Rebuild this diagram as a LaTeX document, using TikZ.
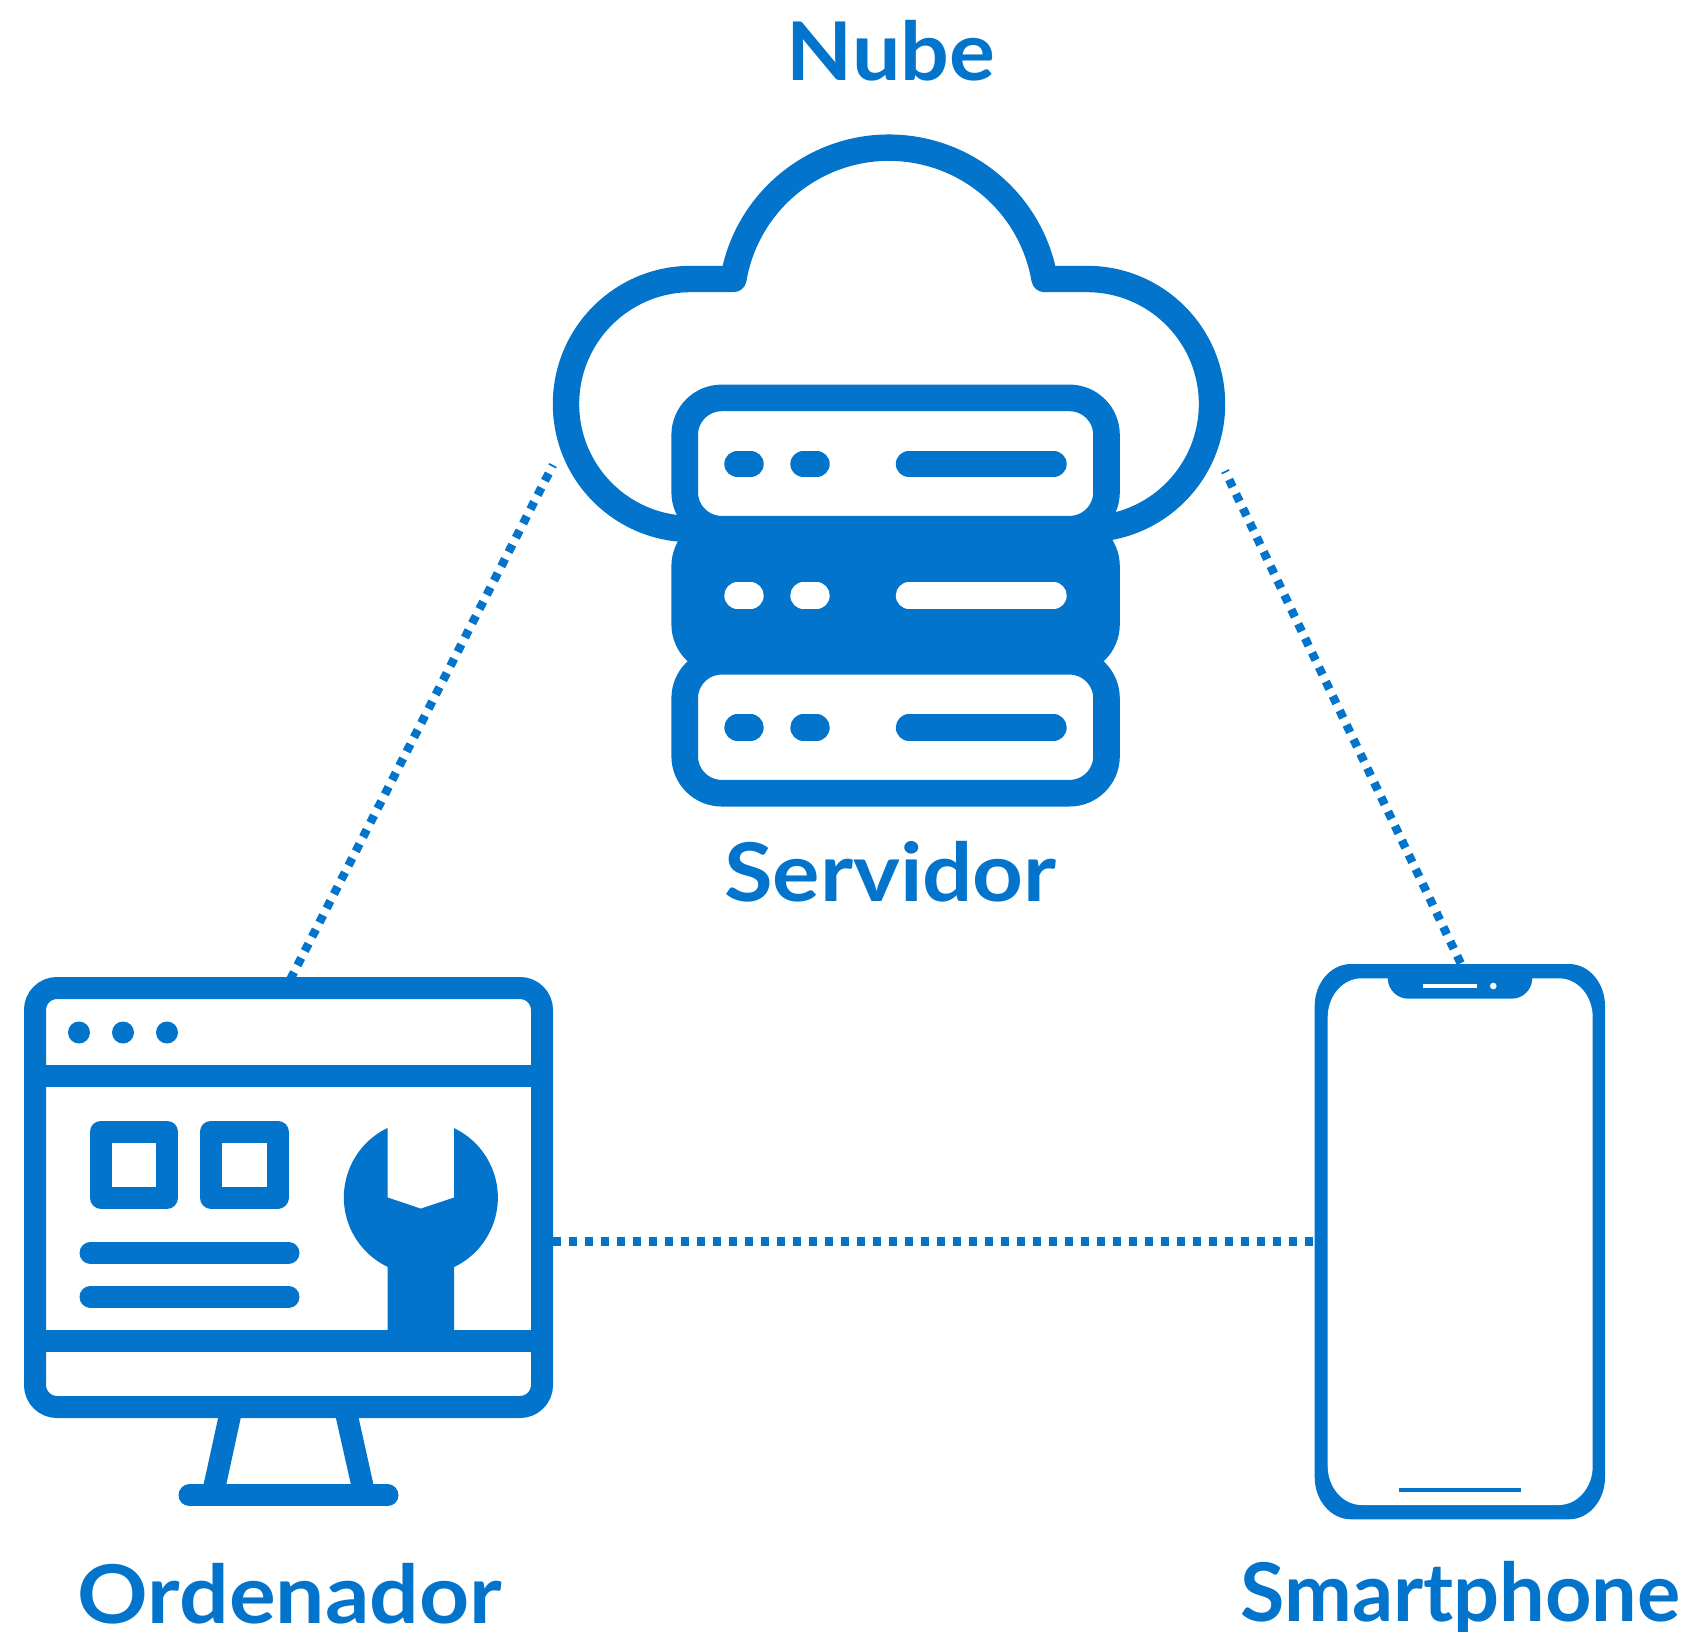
\documentclass[tikz,border=0pt]{standalone}
\usepackage{fontspec}
\setmainfont{Lato}[BoldFont={Lato Bold}]
\definecolor{azul}{HTML}{0374CB}
\tikzset{
  x=1pt,y=1pt,
  label text/.style={text=azul,inner sep=0pt,anchor=base,font=\fontsize{81}{90}\selectfont\bfseries},
  band/.style={draw=azul,line join=round},
  pill/.style={line width=26.4pt,line cap=round},
  dotline/.style={azul,line width=8.5pt,dash pattern=on 8.2pt off 7.8pt,dash phase=6.5pt},
}
\begin{document}
\begin{tikzpicture}
\fill[white] (0,0) rectangle (1691,-1632);
\useasboundingbox (0,0) rectangle (1691,-1632);
% connector anchors
\coordinate (cloudL) at (553,-465);
\coordinate (cloudR) at (1225,-471);
\coordinate (pcTop) at (290,-980);
\coordinate (pcRight) at (553,-1241.5);
\coordinate (phoneTop) at (1462,-966);
\coordinate (phoneLeft) at (1315,-1241.5);
\draw[dotline] (cloudL) -- (pcTop);
\draw[dotline] (cloudR) -- (phoneTop);
\draw[dotline,dash phase=0pt] (pcRight) -- (phoneLeft);
% cloud
\draw[band,line width=26.4pt] (691,-529) arc[start angle=270,end angle=90,radius=125] -- (733.4,-279)
  arc[start angle=170.34,end angle=9.66,radius=157.8] -- (1087,-279)
  arc[start angle=90,end angle=-90,radius=125];
% server
\begin{scope}[line width=26.6pt,draw=azul]
\filldraw[azul,rounded corners=37pt] (684.7,-529.2) rectangle (1106.5,-661.3);
\filldraw[draw=azul,fill=white,rounded corners=37pt] (684.7,-397.9) rectangle (1106.5,-529.2);
\filldraw[draw=azul,fill=white,rounded corners=37pt] (684.7,-661.3) rectangle (1106.5,-793.2);
\end{scope}
\foreach \yy/\cc in {464/azul,595.6/white,727.6/azul}{
  \draw[pill,\cc] (737.5,-\yy) -- (750.5,-\yy);
  \draw[pill,\cc] (803.5,-\yy) -- (816.5,-\yy);
  \draw[pill,\cc] (909,-\yy) -- (1053.5,-\yy);
}
% computer
\filldraw[draw=azul,fill=white,line width=22pt,rounded corners=22pt] (35,-988) rectangle (542,-1407);
\draw[azul,line width=22pt] (35,-1076.4) -- (542,-1076.4);
\draw[azul,line width=22pt] (35,-1341) -- (542,-1341);
\foreach \xx in {79,123,167}{\fill[azul] (\xx,-1032.5) circle[radius=11];}
\draw[band,line width=22pt] (101,-1131.5) rectangle (167,-1197.7);
\draw[band,line width=22pt] (211,-1131.5) rectangle (277.6,-1197.7);
\draw[azul,line width=22pt,line cap=round] (90.5,-1252.9) -- (288.5,-1252.9);
\draw[azul,line width=22pt,line cap=round] (90.5,-1296.8) -- (288.5,-1296.8);
\fill[azul] (387.7,-1127.9) arc[start angle=115.5,end angle=244.5,radius=77] -- (387.7,-1335) -- (454,-1335) -- (454,-1267.1)
  arc[start angle=-64.5,end angle=64.5,radius=77] -- (454,-1197.5) -- (420.8,-1208.6) -- (387.7,-1197.5) -- cycle;
\fill[azul] (219,-1414) -- (241.6,-1414) -- (225.7,-1487) -- (203,-1487) -- cycle;
\fill[azul] (335,-1414) -- (357.8,-1414) -- (374,-1487) -- (351.5,-1487) -- cycle;
\draw[azul,line width=22pt,line cap=round] (189.5,-1495.4) -- (387.5,-1495.4);
% phone
\fill[azul] (1351,-964) -- (1569,-964) arc[start angle=90,end angle=0,x radius=36,y radius=42] -- (1605,-1477.3)
  arc[start angle=0,end angle=-90,x radius=36,y radius=42] -- (1351,-1519.3)
  arc[start angle=270,end angle=180,x radius=36.3,y radius=42] -- (1314.7,-1006)
  arc[start angle=180,end angle=90,x radius=36.3,y radius=42] -- cycle;
\fill[white] (1361.7,-978.3) -- (1558.7,-978.3) arc[start angle=90,end angle=0,x radius=34,y radius=39] -- (1592.7,-1466)
  arc[start angle=0,end angle=-90,x radius=34,y radius=39] -- (1361.7,-1505)
  arc[start angle=270,end angle=180,x radius=34,y radius=39] -- (1327.7,-1017.3)
  arc[start angle=180,end angle=90,x radius=34,y radius=39] -- cycle;
\fill[azul] (1387.7,-975) -- (1387.7,-978) arc[start angle=180,end angle=270,radius=20.7] -- (1511.6,-998.7)
  arc[start angle=270,end angle=360,radius=20.7] -- (1532.3,-975) -- cycle;
\fill[white] (1423.3,-983.7) rectangle (1477.3,-988.3);
\fill[white] (1493.3,-986) circle[radius=3.3];
\fill[azul] (1399,-1488) rectangle (1521,-1492.3);
% labels
\node[label text] (nube) at (891,-81) {\scalebox{1.06}[1]{Nube}};
\node[label text] (servidor) at (890.5,-901.5) {\scalebox{1.095}[1]{Servidor}};
\node[label text] (ordenador) at (290,-1623) {\scalebox{1.08}[1]{Ordenador}};
\node[label text] (smartphone) at (1460.5,-1621) {Smartphone};
\end{tikzpicture}
\end{document}
